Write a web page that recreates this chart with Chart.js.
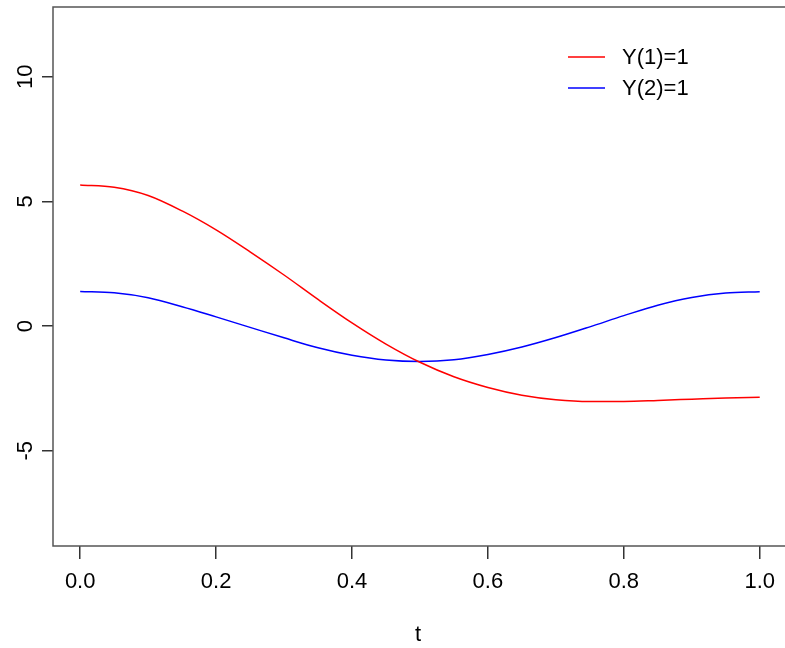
<!DOCTYPE html>
<html>
<head>
<meta charset="utf-8">
<script src="https://cdn.jsdelivr.net/npm/chart.js@4/dist/chart.umd.min.js"></script>
<style>
  html, body { margin: 0; padding: 0; background: #fff; overflow: hidden; }
  #wrap { width: 785px; height: 648px; }
</style>
</head>
<body>
<div id="wrap"><canvas id="myChart" width="785" height="648"></canvas></div>
<script>
// data
const tValues = [0, 0.05, 0.1, 0.15, 0.2, 0.25, 0.3, 0.35, 0.4, 0.45, 0.5,
                 0.55, 0.6, 0.65, 0.7, 0.75, 0.8, 0.85, 0.9, 0.95, 1.0]
const y1Values = [5.66, 5.57, 5.24, 4.62, 3.86, 2.98, 2.05, 1.07, 0.13, -0.72, -1.45,
                  -2.03, -2.46, -2.77, -2.95, -3.02, -3.02, -2.98, -2.93, -2.88, -2.85]
const y2Values = [1.39, 1.34, 1.14, 0.78, 0.37, -0.05, -0.47, -0.87, -1.17, -1.36, -1.42,
                  -1.35, -1.14, -0.84, -0.46, -0.03, 0.42, 0.84, 1.15, 1.33, 1.38]
const xTicks = [0, 0.2, 0.4, 0.6, 0.8, 1.0]
const yTicks = [-5, 0, 5, 10]
const seriesLabels = ['Y(1)=1', 'Y(2)=1']

const FONT = 'Liberation Sans, Arial, sans-serif'
const FONT_SIZE = 22

const toPoints = (ys) => tValues.map((t, i) => ({x: t, y: ys[i]}))

// R style box, y labels and legend
const rStyle = {
    id: 'rStyle',
    afterDraw(chart) {
        const ctx = chart.ctx
        const a = chart.chartArea
        const yScale = chart.scales.y
        ctx.save()
        // box (right side is off the page)
        ctx.strokeStyle = '#555'
        ctx.lineWidth = 1.5
        ctx.strokeRect(a.left, a.top, a.right - a.left + 10, a.bottom - a.top)

        // y tick labels, rotated like R
        ctx.fillStyle = '#000'
        ctx.font = FONT_SIZE + 'px ' + FONT
        ctx.textAlign = 'center'
        ctx.textBaseline = 'alphabetic'
        yTicks.forEach(v => {
            const py = yScale.getPixelForValue(v)
            ctx.save()
            ctx.translate(32, py)
            ctx.rotate(-Math.PI / 2)
            ctx.fillText(String(v), 0, 0)
            ctx.restore()
        })

        // legend
        ctx.textAlign = 'left'
        ctx.textBaseline = 'middle'
        chart.data.datasets.forEach((ds, i) => {
            const ly = 57 + i * 31
            ctx.strokeStyle = ds.borderColor
            ctx.lineWidth = 1.5
            ctx.beginPath()
            ctx.moveTo(568, ly)
            ctx.lineTo(605, ly)
            ctx.stroke()
            ctx.fillStyle = '#000'
            ctx.fillText(ds.label, 622, ly + 1)
        })
        ctx.restore()
    }
}

const config = {
    type: 'line',
    data: {
        datasets: [{
            label: seriesLabels[0],
            data: toPoints(y1Values),
            borderColor: '#ff0000',
            borderWidth: 1.5,
            pointRadius: 0,
            fill: false,
            cubicInterpolationMode: 'monotone'
        },
        {
            label: seriesLabels[1],
            data: toPoints(y2Values),
            borderColor: '#0000ff',
            borderWidth: 1.5,
            pointRadius: 0,
            fill: false,
            cubicInterpolationMode: 'monotone'
        }]
    },
    plugins: [rStyle],
    options: {
        responsive: false,
        animation: false,
        events: [],
        layout: { padding: { top: 7, right: 0, left: 0, bottom: 0 } },
        plugins: {
            legend: { display: false },
            tooltip: { enabled: false }
        },
        scales: {
            x: {
                type: 'linear',
                min: -0.04,
                max: 1.0348,
                afterBuildTicks: (scale) => { scale.ticks = xTicks.map(v => ({value: v})) },
                afterFit: (scale) => { scale.height = 102 },
                ticks: {
                    color: '#000',
                    font: { family: FONT, size: FONT_SIZE },
                    padding: 10,
                    maxRotation: 0,
                    callback: (v) => v.toFixed(1)
                },
                grid: {
                    drawOnChartArea: false,
                    drawTicks: true,
                    tickLength: 13,
                    color: '#333',
                    lineWidth: 1.5
                },
                border: { display: false },
                title: {
                    display: true,
                    text: 't',
                    color: '#000',
                    font: { family: FONT, size: FONT_SIZE },
                    padding: { top: 0, bottom: 0 }
                }
            },
            y: {
                min: -8.82,
                max: 12.8,
                afterBuildTicks: (scale) => { scale.ticks = yTicks.map(v => ({value: v})) },
                afterFit: (scale) => { scale.width = 53 },
                ticks: { display: false },
                grid: {
                    drawOnChartArea: false,
                    drawTicks: true,
                    tickLength: 11,
                    color: '#333',
                    lineWidth: 1.5
                },
                border: { display: false }
            }
        }
    }
}

const myChart = new Chart(document.getElementById('myChart'), config)
</script>
</body>
</html>
